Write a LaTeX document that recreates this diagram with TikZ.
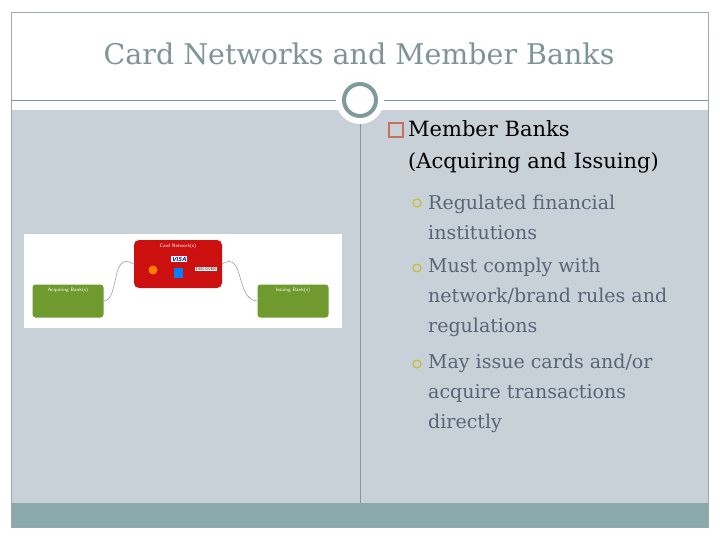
\documentclass[tikz,border=0pt]{standalone}
\usepackage{fontspec}
\setmainfont{DejaVu Serif}
\definecolor{bgc}{HTML}{C8D1D8}
\definecolor{band}{HTML}{8AAAAE}
\definecolor{ring}{HTML}{7F9A9A}
\definecolor{ttl}{HTML}{7E9595}
\definecolor{frm}{HTML}{9AA8B0}
\definecolor{subt}{HTML}{5A6478}
\definecolor{bul}{HTML}{C8BE3C}
\definecolor{sq}{HTML}{C8705A}
\definecolor{gr}{HTML}{6E9A2E}
\definecolor{rd}{HTML}{CC1010}
\tikzset{
 sub/.style={anchor=west,text=subt,font=\fontsize{19}{30}\selectfont,align=left,inner sep=0pt},
 subb/.style={circle,draw=bul,line width=1.3pt,minimum size=8pt,inner sep=0pt},
 gbox/.style={draw=none,fill=gr,rounded corners=3pt,minimum width=71pt,minimum height=33pt},
 tiny/.style={text=white,font=\fontsize{5}{6}\sffamily\selectfont}
}
\begin{document}
\begin{tikzpicture}[x=1pt,y=-1pt]
\useasboundingbox (0,0) rectangle (720,540);
\fill[white] (0,0) rectangle (720,540);
\fill[bgc] (11,110) rectangle (708,503);
\fill[band] (11,503) rectangle (708,527);
\draw[frm,line width=0.6pt] (11,12) rectangle (708,527);
\draw[ring,line width=0.8pt] (11,100) -- (708,100);
\draw[ring,line width=0.8pt] (360,110) -- (360,503);
\fill[white] (360,100) circle (24);
\draw[ring,line width=4pt,fill=white] (360,100) circle (16);
\node[font=\fontsize{28.5}{32}\selectfont,text=ttl] (title) at (359,54) {Card Networks and Member Banks};
% image
\fill[white] (24,234) rectangle (342,328);
\node[gbox] (acq) at (68,301) {};
\node[tiny,anchor=north] at (acq.north) {Acquiring Bank(s)};
\node[gbox] (iss) at (293,301) {};
\node[tiny,anchor=north] at (iss.north) {Issuing Bank(s)};
\node[fill=rd,rounded corners=5pt,minimum width=88pt,minimum height=48pt] (cn) at (178,264) {};
\node[tiny,anchor=north] at (cn.north) {Card Network(s)};
\node[fill=white,font=\fontsize{6}{6}\sffamily\bfseries\itshape\selectfont,text=blue!60!black,inner sep=1pt] (visa) at (179,259) {VISA};
\node[fill=orange,circle,minimum size=9pt,inner sep=0pt] (mc) at (153,270) {};
\node[fill=blue!50!cyan,minimum width=9pt,minimum height=10pt,inner sep=0pt] (ax) at (178,273) {};
\node[fill=white,font=\fontsize{4}{4}\sffamily\selectfont,inner sep=1pt] (dc) at (206,269) {DISCOVER};
\draw[gray] (acq.east) .. controls (120,300) and (110,250) .. (cn.west);
\draw[gray] (cn.east) .. controls (245,250) and (235,300) .. (iss.west);
% text
\draw[sq,line width=1.2pt] (389,123) rectangle (403,137);
\node[anchor=west,inner sep=0pt,font=\fontsize{21}{32}\selectfont,align=left] (mb) at (408,147) {Member Banks\\(Acquiring and Issuing)};
\node[subb] (b1) at (417,203) {};
\node[sub] (t1) at (428,217) {Regulated financial\\institutions};
\node[subb] (b2) at (417,268) {};
\node[sub] (t2) at (428,297) {Must comply with\\network/brand rules and\\regulations};
\node[subb] (b3) at (417,364) {};
\node[sub] (t3) at (428,393) {May issue cards and/or\\acquire transactions\\directly};
\end{tikzpicture}
\end{document}
